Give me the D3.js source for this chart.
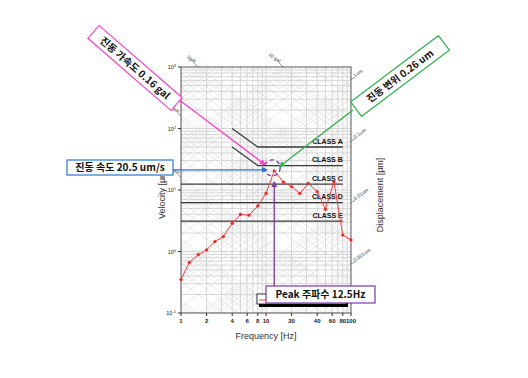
<!DOCTYPE html>
<html>
<head>
<meta charset="utf-8">
<script src="https://cdn.jsdelivr.net/npm/d3@7"></script>
<style>
    body { margin: 0; background: #fff; }
    svg { display: block; font-family: "Liberation Sans", Arial, sans-serif; }
    .ko { font-family: "Noto Sans CJK KR", sans-serif; font-weight: bold; }
</style>
</head>
<body>
<div id="chart"></div>
<script>
// one-third octave band centres [Hz] and measured velocity [um/s]
const freq = [1, 1.25, 1.6, 2, 2.5, 3.15, 4, 5, 6.3, 8, 10, 12.5, 16, 20, 25, 31.5, 40, 50, 63, 80, 100];
const velocity = [0.35, 0.66, 0.89, 1.06, 1.45, 1.74, 2.87, 4.0, 3.9, 5.5, 8.8, 20.5, 13.5, 11.3, 8.8, 12.8, 9.4, 4.85, 13.6, 1.85, 1.54];

// vibration criteria
const classNames = ['CLASS A', 'CLASS B', 'CLASS C', 'CLASS D', 'CLASS E'];
const classValues = [50, 25, 12.5, 6.25, 3.12];
const classKnee = [true, true, false, false, false];

// ticks
const xTicks = [1, 2, 4, 6, 8, 10, 20, 40, 60, 80, 100];
const yTicks = [0.1, 1, 10, 100, 1000];
const yTickExp = ['-1', '0', '1', '2', '3'];

// tripartite labels
const accTop = [1, 10];
const accTopText = ['1gal', '10 gal'];
const accLeft = [0.1, 0.01];
const accLeftText = ['0.1 gal', '0.01 gal'];
const dispRight = [1, 0.1, 0.01, 0.001];
const dispRightText = ['1um', '0.1um', '0.01um', '0.001um'];

const peakFreq = 12.5;
const peakVel = 20.5;

// constants for svg
const margin = { top: 67, left: 181 };
const width = 170;
const height = 246;

const svg = d3.select('#chart')
    .append('svg')
    .attr('width', 528)
    .attr('height', 378);

const defs = svg.append('defs');
defs.append('clipPath').attr('id', 'plotclip')
    .append('rect')
    .attr('x', margin.left).attr('y', margin.top)
    .attr('width', width).attr('height', height);

const x = d3.scaleLog().domain([1, 100]).range([margin.left, margin.left + width]);
const y = d3.scaleLog().domain([0.1, 1000]).range([margin.top + height, margin.top]);

// grid
const grid = svg.append('g').attr('clip-path', 'url(#plotclip)');
const hVals = [];
for (let k = -1; k <= 2; k++) {
    for (let m = 1; m <= 9; m++) hVals.push(m * Math.pow(10, k));
}
const vVals = [];
for (let k = 0; k <= 1; k++) {
    for (let m = 1; m <= 9; m++) vVals.push(m * Math.pow(10, k));
}

// diagonal lines: constant acceleration (gal) and constant displacement (um)
const line = d3.line().x(d => x(d[0])).y(d => y(d[1]));
const diag = [];
for (let k = -5; k <= 2; k++) {
    for (let m = 1; m <= 9; m++) {
        const a = m * Math.pow(10, k) * 1e4;
        diag.push([[1, a / (2 * Math.PI)], [100, a / (200 * Math.PI)]]);
    }
}
for (let k = -6; k <= 1; k++) {
    for (let m = 1; m <= 9; m++) {
        const dd = m * Math.pow(10, k);
        diag.push([[1, 2 * Math.PI * dd], [100, 200 * Math.PI * dd]]);
    }
}
grid.selectAll('.diag')
    .data(diag)
    .join('path')
    .attr('d', line)
    .attr('stroke', '#dcdcdc')
    .attr('stroke-width', 0.6)
    .attr('fill', 'none');

grid.selectAll('.hgrid')
    .data(hVals)
    .join('line')
    .attr('x1', margin.left).attr('x2', margin.left + width)
    .attr('y1', d => y(d)).attr('y2', d => y(d))
    .attr('stroke', '#c8c8c8')
    .attr('stroke-width', 0.7);

grid.selectAll('.vgrid')
    .data(vVals)
    .join('line')
    .attr('x1', d => x(d)).attr('x2', d => x(d))
    .attr('y1', margin.top).attr('y2', margin.top + height)
    .attr('stroke', '#c8c8c8')
    .attr('stroke-width', 0.7);

// frame
svg.append('rect')
    .attr('x', margin.left).attr('y', margin.top)
    .attr('width', width).attr('height', height)
    .attr('fill', 'none')
    .attr('stroke', '#555')
    .attr('stroke-width', 1);

// axis ticks
svg.selectAll('.xtick')
    .data(xTicks)
    .join('line')
    .attr('x1', d => x(d)).attr('x2', d => x(d))
    .attr('y1', margin.top + height).attr('y2', margin.top + height + 3)
    .attr('stroke', '#333');
svg.selectAll('.xlab')
    .data(xTicks)
    .join('text')
    .attr('x', d => x(d))
    .attr('y', margin.top + height + 10)
    .attr('text-anchor', 'middle')
    .style('font-size', '6px')
    .style('font-weight', 'bold')
    .attr('fill', '#222')
    .text(d => d);

svg.selectAll('.ytick')
    .data(yTicks)
    .join('line')
    .attr('x1', margin.left - 3).attr('x2', margin.left)
    .attr('y1', d => y(d)).attr('y2', d => y(d))
    .attr('stroke', '#333');
const ylab = svg.selectAll('.ylab')
    .data(yTicks)
    .join('text')
    .attr('x', margin.left - 5)
    .attr('y', d => y(d) + 2)
    .attr('text-anchor', 'end')
    .style('font-size', '5.5px')
    .attr('fill', '#222');
ylab.append('tspan').text('10');
ylab.append('tspan')
    .attr('dy', -2)
    .style('font-size', '4px')
    .text((d, i) => yTickExp[i]);

// axis titles
svg.append('text')
    .attr('transform', 'translate(165,' + (margin.top + height / 2) + ') rotate(-90)')
    .attr('text-anchor', 'middle')
    .style('font-size', '9px')
    .attr('fill', '#333')
    .text('Velocity  [\u00b5m/s]');
svg.append('text')
    .attr('transform', 'translate(383,' + (margin.top + height / 2 + 5) + ') rotate(-90)')
    .attr('text-anchor', 'middle')
    .style('font-size', '9px')
    .attr('fill', '#333')
    .text('Displacement  [\u00b5m]');
svg.append('text')
    .attr('x', margin.left + width / 2)
    .attr('y', 339)
    .attr('text-anchor', 'middle')
    .style('font-size', '9px')
    .attr('fill', '#333')
    .text('Frequency [Hz]');

// tripartite labels
const tri = svg.append('g').style('font-size', '5px').attr('fill', '#333');
accTop.forEach((a, i) => {
    const xf = x(a * 1e4 / (2 * Math.PI * 1000));
    const yt = margin.top;
    tri.append('line')
        .attr('x1', xf - 4).attr('y1', yt - 4).attr('x2', xf).attr('y2', yt)
        .attr('stroke', '#444').attr('stroke-width', 0.6);
    tri.append('text')
        .attr('transform', 'translate(' + (xf - 4) + ',' + (yt - 4) + ') rotate(35)')
        .attr('text-anchor', 'end')
        .text(accTopText[i]);
});
accLeft.forEach((a, i) => {
    const yv = y(a * 1e4 / (2 * Math.PI));
    tri.append('line')
        .attr('x1', margin.left - 3).attr('y1', yv - 3).attr('x2', margin.left).attr('y2', yv)
        .attr('stroke', '#444').attr('stroke-width', 0.6);
    tri.append('text')
        .attr('transform', 'translate(' + (margin.left - 3) + ',' + (yv - 3) + ') rotate(35)')
        .attr('text-anchor', 'end')
        .text(accLeftText[i]);
});
dispRight.forEach((dd, i) => {
    const yv = y(2 * Math.PI * 100 * dd);
    const xr = margin.left + width;
    tri.append('line')
        .attr('x1', xr).attr('y1', yv).attr('x2', xr + 4).attr('y2', yv - 2)
        .attr('stroke', '#444').attr('stroke-width', 0.6);
    tri.append('text')
        .attr('transform', 'translate(' + (xr + 4) + ',' + (yv - 2) + ') rotate(-35)')
        .text(dispRightText[i]);
});

// class criteria lines
const classes = classNames.map((n, i) => {
    const v = classValues[i];
    const pts = classKnee[i] ? [[4, v * 2], [8, v], [80, v]] : [[1, v], [80, v]];
    return { name: n, value: v, pts: pts };
});
svg.selectAll('.cls')
    .data(classes)
    .join('path')
    .attr('d', d => line(d.pts))
    .attr('fill', 'none')
    .attr('stroke', '#3a3a3a')
    .attr('stroke-width', 1.3);
svg.selectAll('.clslab')
    .data(classes)
    .join('text')
    .attr('x', x(80))
    .attr('y', d => y(d.value) - 3.5)
    .attr('text-anchor', 'end')
    .style('font-size', '7px')
    .style('font-weight', 'bold')
    .attr('fill', '#111')
    .text(d => d.name);

// measured series
const series = freq.map((f, i) => [f, velocity[i]]);
svg.append('path')
    .datum(series)
    .attr('d', line)
    .attr('fill', 'none')
    .attr('stroke', '#ff3b3b')
    .attr('stroke-width', 1);
svg.selectAll('.pt')
    .data(series)
    .join('circle')
    .attr('cx', d => x(d[0]))
    .attr('cy', d => y(d[1]))
    .attr('r', 1.6)
    .attr('fill', '#ff2020');

// legend (mostly hidden behind the peak box)
svg.append('rect')
    .attr('x', 259).attr('y', 297).attr('width', 89).attr('height', 10)
    .attr('fill', '#000');
svg.append('rect')
    .attr('x', 257).attr('y', 294).attr('width', 89).attr('height', 10)
    .attr('fill', '#fff').attr('stroke', '#000').attr('stroke-width', 0.8);
svg.append('line')
    .attr('x1', 259).attr('x2', 266).attr('y1', 300).attr('y2', 300)
    .attr('stroke', '#ff3b3b');

// annotations
const px = x(peakFreq);
const py = y(peakVel);
const colors = { pink: '#ff3fc8', green: '#2fb24c', blue: '#2a78c8', purple: '#7a3aaa' };
Object.keys(colors).forEach(k => {
    defs.append('marker')
        .attr('id', 'arr-' + k)
        .attr('viewBox', '0 0 10 10')
        .attr('refX', 9).attr('refY', 5)
        .attr('markerWidth', 6).attr('markerHeight', 6)
        .attr('markerUnits', 'userSpaceOnUse')
        .attr('orient', 'auto')
        .append('path')
        .attr('d', 'M0,0L10,5L0,10Z')
        .attr('fill', colors[k]);
});

// dashed circle around the peak
svg.append('circle')
    .attr('cx', px - 2).attr('cy', py - 3).attr('r', 8)
    .attr('fill', 'none')
    .attr('stroke', colors.purple)
    .attr('stroke-width', 1.3)
    .attr('stroke-dasharray', '4,3');

function arrow(x1, y1, x2, y2, c) {
    svg.append('line')
        .attr('x1', x1).attr('y1', y1).attr('x2', x2).attr('y2', y2)
        .attr('stroke', colors[c])
        .attr('stroke-width', 1.3)
        .attr('marker-end', 'url(#arr-' + c + ')');
}
arrow(178, 99, px - 9, py - 6, 'pink');
arrow(353, 110, px + 5, py - 4, 'green');
arrow(173, py - 1, px - 7, py - 1, 'blue');
arrow(px, 286, px, py + 11, 'purple');

function box(cx, cy, w, h, angle, c, label) {
    const g = svg.append('g')
        .attr('transform', 'translate(' + cx + ',' + cy + ') rotate(' + angle + ')');
    g.append('rect')
        .attr('x', -w / 2).attr('y', -h / 2).attr('width', w).attr('height', h)
        .attr('fill', '#fff')
        .attr('stroke', colors[c])
        .attr('stroke-width', 1.2);
    g.append('text')
        .attr('class', 'ko')
        .attr('text-anchor', 'middle')
        .attr('dy', '0.36em')
        .style('font-size', '10px')
        .attr('fill', '#111')
        .text(label);
}
box(135, 68, 110, 17, 41, 'pink', '진동 가속도 0.16 gal');
box(400, 76, 110, 18, -37, 'green', '진동 변위 0.26 um');
box(120, 167.5, 106, 15, 0, 'blue', '진동 속도 20.5 um/s');
box(320.5, 294.5, 109, 17, 0, 'purple', 'Peak 주파수 12.5Hz');
</script>
</body>
</html>
